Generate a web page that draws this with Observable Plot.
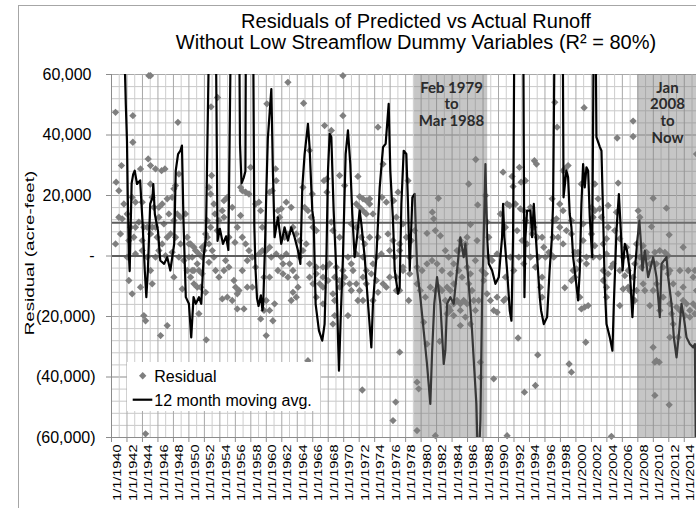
<!DOCTYPE html>
<html>
<head>
<meta charset="utf-8">
<script src="https://cdn.jsdelivr.net/npm/d3@7"></script>
<script src="https://cdn.jsdelivr.net/npm/@observablehq/plot@0.6"></script>
<style>
html,body{margin:0;padding:0;background:#fff;}
#wrap{position:relative;width:696px;height:508px;overflow:hidden;background:#fff;font-family:"Liberation Sans",Arial,sans-serif;color:#000;}
#chart{position:absolute;left:0;top:0;width:720px;}
#frame{position:absolute;left:18px;top:5px;width:800px;height:800px;border-left:1px solid #a6a6a6;border-top:1px solid #a6a6a6;box-sizing:border-box;pointer-events:none;}
#title{position:absolute;left:116px;width:600px;top:11px;text-align:center;font-size:20px;line-height:21px;}
#ylab{position:absolute;left:30px;top:253px;font-size:16px;line-height:16px;white-space:nowrap;transform:translate(-50%,-50%) rotate(-90deg) scale(1.17,0.85);}
#legend{position:absolute;left:127px;top:362px;}
</style>
</head>
<body>
<div id="wrap">
<div id="chart"></div>
<div id="frame"></div>
<div id="title">Residuals of Predicted vs Actual Runoff<br>Without Low Streamflow Dummy Variables (R² = 80%)</div>
<div id="ylab">Residual (acre-feet)</div>
<svg id="legend" width="193" height="49" style="font-family:'Liberation Sans',Arial,sans-serif;font-size:16px;">
<rect width="193" height="49" fill="#fff"/>
<path d="M15.7,10 L19.4,13.7 L15.7,17.4 L12,13.7Z" fill="#7f7f7f"/>
<text x="27.3" y="20">Residual</text>
<line x1="5.7" x2="25.3" y1="37.7" y2="37.7" stroke="#000" stroke-width="2.2"/>
<text x="27.3" y="43.7">12 month moving avg.</text>
</svg>
</div>
<script>
// Residuals, [decimal year, thousand acre-feet]
const residualPoints = [
[1940.52,47.5],[1942.76,46.4],[1944.83,59.6],[1945.04,59.6],[1948.58,44.2],[1942.76,37.6],[1941.29,29.9],[1944.74,32.1],[1940.6,24.4],[1940.95,21.6],[1945.04,29.9],[1943.75,28.8],[1945.69,28.8],[1946.47,28.2],[1946.9,28.8],[1948.71,27.1],[1945.04,23.8],[1948.06,22.2],[1940.52,4.0],[1941.6,17.2],[1940.95,12.8],[1941.38,12.3],[1942.03,13.9],[1942.67,19.4],[1943.1,17.8],[1943.97,17.8],[1945.26,19.4],[1945.47,16.1],[1946.12,16.1],[1946.55,17.2],[1947.2,18.9],[1947.84,19.4],[1948.28,23.3],[1942.46,9.5],[1943.1,9.5],[1943.53,11.2],[1944.18,9.5],[1944.61,9.5],[1945.26,9.5],[1945.69,9.5],[1946.12,12.8],[1946.77,10.6],[1947.41,13.9],[1948.06,11.7],[1948.49,13.9],[1948.92,12.8],[1949.57,13.9],[1941.16,7.3],[1942.24,5.1],[1942.89,6.2],[1943.97,5.1],[1945.04,7.3],[1945.9,6.2],[1946.55,4.0],[1947.2,6.2],[1947.63,7.3],[1948.28,6.2],[1948.92,4.0],[1949.78,6.2],[1950.22,4.0],[1950.65,2.9],[1942.03,-0.4],[1943.1,0.7],[1943.97,1.8],[1944.61,-0.4],[1945.69,-0.4],[1946.12,1.8],[1946.98,0.1],[1947.84,1.2],[1948.71,-0.4],[1949.35,-1.5],[1950.0,-0.4],[1950.86,1.8],[1951.29,0.7],[1951.72,2.9],[1942.24,-8.1],[1942.67,-12.5],[1943.75,-10.3],[1945.26,-9.2],[1944.18,-19.7],[1944.4,-21.4],[1946.34,-26.3],[1947.2,-23.0],[1945.04,-4.8],[1948.06,-7.0],[1949.14,-10.9],[1950.22,-7.0],[1950.65,-9.2],[1951.08,-10.3],[1951.51,-10.3],[1951.29,-19.1],[1952.24,-27.7],[1944.4,-58.8],[1949.78,-4.8],[1950.43,-4.8],[1951.72,-5.9],[1952.16,-12.0],
[1950.0,4.0],[1950.43,-0.4],[1950.65,-4.8],[1951.08,-2.6],[1951.29,-4.8],[1951.72,-0.4],[1951.94,1.8],[1952.16,4.0],[1952.37,6.2],[1952.59,4.0],[1953.02,1.8],[1952.59,-2.1],[1953.23,-0.4],[1953.45,-4.8],[1953.88,-7.0],[1954.53,-4.8],[1954.74,-1.5],[1955.17,-3.7],[1953.66,8.4],[1953.88,11.7],[1954.31,15.0],[1954.53,18.3],[1954.96,19.4],[1953.23,17.2],[1952.8,20.5],[1952.59,22.7],[1952.93,26.6],[1952.86,49.3],[1953.7,52.4],[1952.16,7.3],[1952.37,11.7],[1952.8,9.5],[1953.36,13.9],[1954.53,12.8],[1955.17,6.2],[1955.6,16.1],[1955.95,4.5],[1956.25,9.5],[1956.68,13.4],[1955.82,-8.1],[1956.03,-10.3],[1956.25,-12.5],[1956.47,-11.4],[1955.6,-14.7],[1954.96,-13.6],[1954.31,-14.2],[1956.25,-17.5],[1957.11,-17.5],[1956.9,6.2],[1957.33,4.0],[1957.76,1.8],[1957.54,-1.5],[1958.19,-0.4],[1958.62,-3.7],[1959.05,0.7],[1959.48,1.8],[1957.97,29.3],[1958.62,17.2],[1959.05,17.8],[1959.27,15.0],[1959.48,9.5],[1959.7,-7.0],[1959.7,-18.0],[1959.27,-20.8],[1958.19,-10.3],[1957.54,-10.3],[1956.9,-4.8],[1956.9,21.6],[1957.33,21.1],[1957.76,20.5],[1956.68,22.7],
[1969.9,59.6],[1962.79,57.4],[1960.08,50.3],[1964.82,50.5],[1969.9,46.4],[1967.53,43.1],[1968.4,41.5],[1974.43,42.6],[1965.59,34.9],[1975.08,30.4],[1961.2,28.8],[1961.28,24.9],[1969.47,26.6],[1971.84,26.3],[1967.45,24.9],[1967.84,25.5],[1970.12,23.3],[1978.31,24.9],[1960.42,21.1],[1960.77,21.6],[1964.73,22.7],[1965.94,20.5],[1967.84,21.1],[1972.06,19.6],[1972.49,18.9],[1972.92,18.3],[1973.35,18.9],[1974.95,19.4],[1975.51,17.8],[1976.46,18.3],[1977.02,21.1],[1961.5,15.0],[1961.93,15.6],[1962.58,17.8],[1963.22,16.1],[1961.72,12.8],[1964.95,16.1],[1965.38,15.0],[1965.81,12.8],[1971.63,17.2],[1972.06,16.1],[1972.49,15.0],[1972.92,13.9],[1973.35,17.2],[1973.78,13.9],[1976.8,12.8],[1977.66,10.6],[1962.36,6.2],[1962.79,7.3],[1963.44,9.5],[1963.87,7.3],[1964.3,5.1],[1965.16,4.0],[1966.03,9.5],[1966.46,8.4],[1968.4,11.2],[1968.61,8.4],[1969.47,6.2],[1970.98,10.6],[1971.63,9.5],[1972.28,6.2],[1972.71,4.0],[1973.35,6.2],[1974.43,6.2],[1975.72,7.3],[1976.37,5.1],[1977.23,4.0],[1978.09,6.2],[1978.74,5.1],[1979.17,8.4],[1959.99,1.8],[1960.42,2.9],[1960.64,-0.4],[1961.28,0.7],[1961.93,-0.4],[1962.15,-2.6],[1962.58,0.7],[1963.01,-2.6],[1964.3,-0.4],[1964.73,1.8],[1965.59,-2.6],[1966.46,-3.7],[1967.32,-3.7],[1968.18,-2.6],[1969.04,-3.7],[1969.9,-4.8],[1970.55,-0.4],[1970.98,-2.6],[1971.63,0.7],[1972.49,-0.4],[1972.92,-4.8],[1973.78,-2.6],[1974.22,-0.4],[1974.86,0.7],[1975.94,1.8],[1976.59,-0.4],[1977.23,1.8],[1977.66,-3.7],[1978.53,-0.4],[1960.42,-7.0],[1961.5,-4.8],[1962.15,-5.9],[1962.79,-7.0],[1963.44,-4.8],[1963.87,-7.0],[1964.09,-10.3],[1963.44,-12.0],[1963.87,-13.6],[1965.59,-7.0],[1966.03,-9.2],[1966.46,-5.9],[1966.89,-9.2],[1967.32,-7.0],[1967.75,-3.7],[1967.97,-8.1],[1968.83,-7.0],[1969.47,-8.1],[1970.12,-7.0],[1970.77,-9.2],[1971.2,-4.8],[1971.63,-9.2],[1972.06,-11.4],[1972.49,-7.0],[1972.92,-9.2],[1973.57,-5.9],[1974.22,-8.1],[1975.08,-9.2],[1975.94,-7.0],[1976.8,-7.0],[1977.66,-4.8],[1978.53,-5.9],[1959.99,-14.7],[1960.42,-18.0],[1961.07,-15.8],[1963.22,-14.7],[1966.46,-13.6],[1967.32,-10.3],[1968.61,-12.5],[1968.83,-14.7],[1969.47,-10.3],[1969.9,-9.2],[1970.98,-11.4],[1971.84,-14.7],[1972.49,-14.7],[1973.78,-14.7],[1974.43,-12.0],[1975.51,-10.3],[1976.8,-11.4],[1977.23,-11.4],[1978.4,-14.7],[1968.83,-19.7],[1968.61,-22.5],[1970.55,-19.7],[1967.32,-15.8],[1959.99,-26.3],[1960.85,-21.4],[1965.38,-34.6],[1977.23,-31.8],[1972.4,-44.3],[1976.72,-48.3],[1976.37,-54.4],
[1987.06,31.9],[1994.64,31.5],[1994.9,30.4],[1986.15,23.8],[1990.59,27.7],[1991.75,26.3],[1991.88,23.0],[1992.7,29.3],[1992.92,24.4],[1993.48,24.9],[1982.23,19.1],[1987.31,16.9],[1996.93,18.9],[1981.45,14.5],[1981.63,12.3],[1981.84,8.4],[1982.49,6.7],[1980.76,7.5],[1986.37,10.4],[1984.86,1.8],[1985.07,5.1],[1985.72,4.0],[1985.94,6.2],[1987.23,5.1],[1988.31,20.0],[1988.52,11.2],[1988.74,6.2],[1990.25,13.9],[1990.89,9.5],[1991.11,17.2],[1991.45,16.7],[1992.19,17.2],[1992.83,15.6],[1993.26,15.0],[1993.48,11.7],[1994.13,16.1],[1994.56,9.5],[1994.99,6.2],[1995.63,6.2],[1992.4,8.4],[1993.05,5.1],[1993.69,4.0],[1994.34,7.3],[1995.85,2.9],[1996.5,1.2],[1997.14,-0.4],[1997.14,11.7],[1983.13,1.8],[1983.56,-0.4],[1984.21,-2.6],[1984.64,1.8],[1979.47,-3.7],[1980.12,-4.8],[1980.76,-2.6],[1981.41,-1.5],[1982.06,-2.6],[1982.7,-4.8],[1983.78,-5.9],[1984.21,-9.2],[1984.86,-4.8],[1985.29,-7.0],[1985.94,-3.7],[1986.37,-5.9],[1987.01,-1.5],[1987.87,-4.8],[1988.31,-5.9],[1988.74,-0.4],[1989.17,-1.5],[1989.81,0.7],[1988.09,-8.1],[1988.52,-12.5],[1988.95,-14.7],[1989.81,-13.6],[1990.68,-14.7],[1990.89,-7.0],[1991.54,-0.4],[1991.97,-4.8],[1992.62,-0.4],[1993.26,-2.6],[1994.13,-0.4],[1994.77,-3.7],[1995.2,-0.4],[1995.63,-7.0],[1996.06,-0.4],[1996.71,0.7],[1979.47,-9.2],[1979.9,-11.4],[1980.55,-13.6],[1981.19,-10.3],[1981.84,-11.4],[1982.27,-10.3],[1982.7,-11.4],[1983.35,-10.3],[1983.78,-11.4],[1983.13,-14.7],[1983.56,-16.9],[1983.78,-18.0],[1984.21,-15.8],[1984.64,-14.7],[1985.07,-15.8],[1985.5,-14.7],[1985.94,-15.8],[1986.15,-9.2],[1986.58,-11.4],[1986.8,-14.7],[1983.35,-19.1],[1984.21,-19.7],[1985.07,-18.0],[1985.72,-20.2],[1986.37,-22.5],[1987.01,-18.0],[1987.44,-14.7],[1989.38,-18.0],[1989.81,-18.6],[1990.89,-14.2],[1995.42,-10.3],[1995.63,-13.6],[1980.33,-21.9],[1980.76,-29.1],[1982.4,-28.2],[1985.07,-23.0],[1992.53,-27.1],[1995.07,-32.7],[1987.66,-35.1],[1987.66,-40.1],[1979.47,-41.7],[1979.69,-43.9],[1989.38,-40.6],[1993.35,-45.0],[1994.77,-42.8],[1979.47,-57.7],[1981.84,-59.4],[1991.11,-59.4],
[1997.27,50.8],[2001.06,49.0],[2007.39,44.6],[2007.39,39.5],[1997.57,42.6],[2005.33,39.0],[1998.56,28.8],[1998.99,29.9],[1998.34,28.2],[2000.71,23.8],[2002.44,23.8],[2005.46,24.1],[2009.98,19.1],[2011.7,15.8],[2015.58,33.7],[1997.91,17.2],[1998.34,15.0],[2002.87,18.9],[2002.01,16.1],[2002.44,15.0],[2003.08,15.6],[2004.16,16.7],[2005.24,14.5],[1997.48,12.3],[1997.91,9.5],[1998.77,8.4],[1999.42,11.7],[2000.93,10.6],[2002.22,12.8],[2003.3,12.8],[2004.16,9.5],[2005.02,8.4],[2008.04,15.0],[2008.26,12.8],[2009.77,9.7],[2012.05,7.0],[2013.86,2.9],[1997.05,6.2],[1997.7,6.2],[1998.34,4.0],[1999.42,7.3],[2000.28,1.2],[2000.93,5.1],[2002.01,7.3],[2002.44,3.4],[2003.52,4.0],[2003.95,5.7],[2005.67,5.7],[2006.53,2.9],[2007.83,4.0],[2008.69,3.4],[2009.12,1.2],[1999.85,1.2],[2000.5,-1.5],[2001.36,-0.4],[2002.22,-0.4],[2003.08,-0.4],[2003.95,0.7],[2004.81,-2.6],[2006.1,-0.4],[2006.96,-0.4],[2008.26,-0.4],[2009.33,-0.4],[2010.2,1.2],[2010.84,1.8],[2011.49,1.2],[2011.92,0.1],[1999.64,-4.8],[2000.07,-4.3],[2001.36,-2.6],[2003.52,-4.8],[2004.59,-3.7],[2005.67,-4.8],[2006.75,-4.8],[2007.61,-2.6],[2008.47,-3.7],[2009.55,-2.6],[2010.41,-2.6],[2011.27,-3.7],[2012.14,-4.8],[2013.43,-4.8],[2014.51,-4.8],[2015.15,-7.0],[1999.42,-8.1],[1999.85,-7.0],[2003.52,-8.1],[2004.16,-5.9],[2006.32,-6.5],[2006.75,-10.3],[2007.39,-7.0],[2008.69,-9.2],[2010.41,-9.2],[2011.92,-5.9],[2012.57,-9.2],[2013.86,-10.3],[1998.56,-10.5],[2003.95,-10.3],[2006.1,-10.9],[2006.96,-11.4],[2007.83,-11.4],[2008.9,-11.4],[2009.98,-11.4],[2011.27,-13.6],[2012.14,-15.8],[2013.21,-12.5],[2013.86,-14.7],[2014.29,-15.8],[2014.72,-18.0],[2015.15,-15.8],[2015.58,-16.9],[2000.5,-13.6],[2003.95,-13.6],[2005.67,-16.4],[2007.61,-14.7],[2009.55,-16.4],[2010.84,-18.0],[2012.35,-19.1],[2013.0,-16.9],[2013.43,-18.0],[2014.08,-19.7],[2014.72,-20.2],[2015.37,-19.1],[2000.71,-17.5],[2001.14,-16.9],[2001.58,-16.4],[2001.27,-28.5],[2009.98,-30.2],[2010.41,-34.6],[2010.76,-35.1],[2010.2,-35.1],[2012.14,-26.9],[2013.21,-26.9],[2012.57,-22.5],[1999.12,-35.7],[1999.42,-38.4],[2010.2,-46.1],[2012.05,-49.2],[2004.59,-59.6],[2015.58,-11.4],[2015.37,-4.8]
];

// 12 month moving average, [decimal year, thousand acre-feet]
const avgLine = [
[1941.6,75],[1941.85,50],[1942.0,38],[1942.1,20],[1942.25,0],[1942.35,-5],[1942.6,24],[1942.8,27],[1943.0,28.2],[1943.3,23.8],[1943.7,25],[1944.0,11.7],[1944.3,-4.8],[1944.5,-13.6],[1944.7,-4.8],[1945.0,17.2],[1945.3,19.4],[1945.4,23.8],[1945.6,13.9],[1946.0,8.4],[1946.3,-1.5],[1946.8,-2.6],[1947.2,-0.4],[1947.6,-4.8],[1948.1,4.0],[1948.3,28.2],[1948.6,33.7],[1948.9,34.8],[1949.1,36.5],[1949.3,11.7],[1949.6,-13.6],[1950.0,-15.8],[1950.3,-26.9],[1950.6,-13.6],[1950.9,-15.8],[1951.3,-13.6],[1951.6,-15.8],[1951.9,-0.4],[1952.2,6.2],[1952.62,75],[1953.48,75],[1953.7,5],[1954.0,9],[1954.4,4],[1954.8,6.5],[1955.1,2],[1955.42,75],[1956.5,75],[1956.6,37],[1956.8,24],[1957.1,26],[1957.3,28],[1957.36,75],[1958.3,75],[1958.45,10],[1958.6,-4],[1958.8,-14],[1959.0,-16.5],[1959.3,-13],[1959.5,-18],[1959.6,-16],[1959.85,5],[1960.0,21],[1960.2,39],[1960.45,48],[1960.65,55.2],[1960.85,28.2],[1961.07,6.2],[1961.5,12.8],[1961.93,4],[1962.36,9.5],[1962.79,5.1],[1963.22,9.5],[1963.65,6.2],[1964.09,1.8],[1964.4,-2.6],[1964.65,22.7],[1964.95,33.7],[1965.38,43.7],[1965.59,36],[1965.94,15],[1966.12,11.7],[1966.37,-15.8],[1966.8,-24.7],[1967.23,-28],[1967.53,-22.5],[1967.75,-2.6],[1967.97,28.2],[1968.18,40.4],[1968.4,39.3],[1968.7,15],[1969.04,-4.8],[1969.26,-26.9],[1969.39,-37.9],[1969.6,-21.4],[1969.9,-0.4],[1970.25,33.7],[1970.55,41.5],[1970.85,30.4],[1971.11,13.9],[1971.41,-0.4],[1971.72,6.2],[1972.06,15],[1972.28,10.6],[1972.71,-0.4],[1973.14,-15.8],[1973.57,-30.2],[1973.78,-15.8],[1974.22,-0.4],[1974.65,22.7],[1975.08,36],[1975.42,37.1],[1975.81,50.3],[1976.02,28.2],[1976.37,11.7],[1976.59,-4.8],[1977.02,-12.5],[1977.23,-10.3],[1977.45,17.2],[1977.75,34.8],[1978.09,33.7],[1978.31,17.2],[1978.53,-4.8],[1978.87,19.4],[1979.17,20.5],[1979.35,6],[1979.5,-4.8],[1979.9,-13.6],[1980.33,-24.7],[1980.76,-35.7],[1981.19,-48.9],[1981.41,-32.4],[1981.7,-15.8],[1982.06,-7],[1982.49,-15.8],[1982.92,-35.7],[1983.13,-31.3],[1983.35,-15.8],[1983.78,-13.6],[1984.21,-15.8],[1984.64,-4.8],[1985.07,6.2],[1985.5,-0.4],[1985.72,4],[1986.15,-9.2],[1986.58,-24.7],[1986.88,-37.9],[1987.14,-48.9],[1987.3,-65],[1987.5,-65],[1987.66,-54.4],[1987.87,-15.8],[1988.09,6.2],[1988.31,30.4],[1988.52,6.2],[1988.74,-2.6],[1989.17,-4.8],[1989.6,-9.2],[1990.03,-7],[1990.46,6.2],[1990.59,17.2],[1990.76,6.2],[1991.11,-4.8],[1991.45,-18],[1991.67,-21.4],[1991.88,6.2],[1992.05,75],[1993.2,75],[1993.35,-13.6],[1993.48,6.2],[1993.69,15],[1994.13,15],[1994.34,6.2],[1994.56,17.2],[1994.77,8.4],[1994.99,-0.4],[1995.33,-13.6],[1995.5,-18],[1995.85,-22.5],[1996.28,-20.2],[1996.6,-4.8],[1996.9,6.2],[1997.05,17.2],[1997.15,44.8],[1997.25,75],[1998.3,75],[1998.4,19.4],[1998.77,28.2],[1998.99,26],[1999.2,13.9],[1999.42,9.5],[1999.64,-0.4],[1999.85,-4.8],[2000.28,-14.7],[2000.5,-4.8],[2000.71,17.2],[2000.93,30.4],[2001.14,22.7],[2001.36,29.3],[2001.58,28.2],[2001.79,12.8],[2002.1,-0.4],[2002.3,75],[2002.55,75],[2002.65,39.3],[2003.1,36],[2003.3,34.8],[2003.52,12.8],[2003.73,-10.3],[2003.95,-22.5],[2004.38,-26.9],[2004.72,-31.3],[2004.9,-15.8],[2005.24,8.4],[2005.55,20.5],[2005.8,8.4],[2006.03,-4.8],[2006.32,4],[2006.6,1.8],[2006.96,-4.8],[2007.3,-20.2],[2007.61,-4.8],[2007.9,4],[2008.2,11.7],[2008.35,6.2],[2008.6,-4.8],[2008.9,1.8],[2009.33,-7],[2009.55,-4.8],[2009.98,-0.4],[2010.41,-7],[2010.84,-20.2],[2011.06,-2.6],[2011.7,-0.4],[2011.92,-7],[2012.35,-15.8],[2012.65,-26.9],[2013.0,-33.5],[2013.35,-24.7],[2013.64,-15.8],[2013.94,-20.2],[2014.29,-26.9],[2014.72,-29.1],[2015.15,-30.2],[2015.37,-29.1],[2015.5,-65]
];

// Highlighted periods
const periodStart = [1979.15, 2008.0];
const periodEnd = [1988.6, 2017];
const periodLabelX = [1983.93, 2011.83];
const periodLabels = ["Feb 1979\nto\nMar 1988", "Jan\n2008\nto\nNow"];

// Horizontal reference lines (thousand acre-feet)
const refLines = [11, 0];

// Axis ticks
const labelYears = d3.range(1940, 2017, 2);
const minorYears = d3.range(1941, 2017, 2);
const yMajor = [-60, -40, -20, 0, 20, 40, 60];
const yMinor = d3.range(-60, 61, 4);

const periods = periodStart.map((s, i) => ({start: s, end: periodEnd[i], labelX: periodLabelX[i], label: periodLabels[i]}));
const fmt = d3.format(",");

const chart = Plot.plot({
  width: 720, height: 508,
  marginLeft: 111, marginRight: 13, marginTop: 74, marginBottom: 71,
  x: {domain: [1940, 2017], axis: null},
  y: {domain: [-60, 60], axis: null},
  style: {background: "transparent", maxWidth: "none", fontFamily: "'Liberation Sans', Arial, sans-serif", fontSize: "16px", color: "#000", overflow: "visible"},
  marks: [
    Plot.ruleY(yMinor, {stroke: "#c9c9c9"}),
    Plot.ruleY(yMajor, {stroke: "#a8a8a8"}),
    Plot.ruleX(minorYears, {stroke: "#cdcdcd"}),
    Plot.ruleX(labelYears, {stroke: "#a8a8a8"}),
    Plot.dot(residualPoints, {x: d => d[0], y: d => d[1], symbol: "diamond2", r: 3.3, fill: "#7f7f7f", stroke: "none"}),
    Plot.ruleY(refLines, {stroke: "#5e5e5e", strokeWidth: 2}),
    Plot.line(avgLine, {x: d => d[0], y: d => d[1], stroke: "#000", strokeWidth: 2.2, clip: true}),
    Plot.rect(periods, {x1: "start", x2: "end", fill: "#7d7d7d", fillOpacity: 0.44}),
    Plot.text(periods, {x: "labelX", text: "label", frameAnchor: "top", lineAnchor: "top", dy: 6, fontFamily: "Lato, 'Liberation Sans', sans-serif", fontWeight: "bold", fontSize: 15, lineHeight: 1.13, fill: "#2b2b2b"}),
    Plot.ruleX([1940], {stroke: "#8c8c8c"}),
    Plot.ruleY([-60], {stroke: "#8c8c8c"}),
    Plot.axisX({ticks: labelYears, tickSize: 5, tickFormat: () => "", stroke: "#8c8c8c"}),
    Plot.axisX({ticks: labelYears, tickSize: 0, tickPadding: 7, tickRotate: -90, tickFormat: d => `1/1/${d}`, dx: 6, fontSize: 14.5}),
    Plot.axisY({ticks: [20, 40, 60], tickSize: 5, tickPadding: 15, tickFormat: d => fmt(d * 1000), stroke: "#8c8c8c", fontSize: 16}),
    Plot.axisY({ticks: [-20, -40, -60], tickSize: 5, tickPadding: 11, tickFormat: d => `(${fmt(-d * 1000)})`, stroke: "#8c8c8c", fontSize: 16}),
    Plot.axisY({ticks: [0], tickSize: 5, tickPadding: 12, tickFormat: () => "-", stroke: "#8c8c8c", fontSize: 16})
  ]
});
document.getElementById("chart").appendChild(chart);
d3.select(chart).selectAll('g[aria-label="x-axis tick label"] text').each(function() {
  const t = this.getAttribute("transform") || "";
  if (t.includes("rotate")) this.setAttribute("transform", t + " scale(1,0.8)");
});
</script>
</body>
</html>
